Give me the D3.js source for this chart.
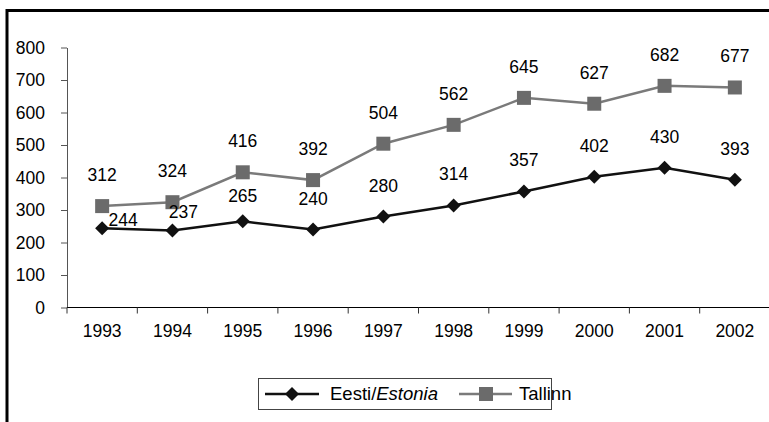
<!DOCTYPE html>
<html><head><meta charset="utf-8">
<script src="https://cdn.jsdelivr.net/npm/d3@7"></script>
<style>body{margin:0;background:#fff}svg{display:block}text{font-family:"Liberation Sans",Arial,sans-serif}</style>
</head><body>
<script>
const years = ["1993","1994","1995","1996","1997","1998","1999","2000","2001","2002"];
const estonia = [244,237,265,240,280,314,357,402,430,393];
const tallinn = [312,324,416,392,504,562,645,627,682,677];
const yTicks = [0,100,200,300,400,500,600,700,800];
const seriesNames = ["Eesti/", "Estonia", "Tallinn"];

const W = 769, H = 422;
const svg = d3.select("body").append("svg").attr("width", W).attr("height", H);
svg.append("rect").attr("x", 7).attr("y", 10.5).attr("width", 800).attr("height", 500)
  .attr("fill", "none").attr("stroke", "#000").attr("stroke-width", 3);

const x = d3.scaleBand().domain(years).range([67, 770]);
const y = d3.scaleLinear().domain([0, 800]).range([307.5, 47.5]);
const fs = 17.5;

// Y axis
const ya = svg.append("g").attr("transform", "translate(67,0)")
  .call(d3.axisLeft(y).tickValues(yTicks).tickSize(6).tickSizeOuter(0).tickPadding(16));
ya.select(".domain").attr("stroke", "#555");
ya.selectAll(".tick line").attr("stroke", "#555");
ya.selectAll("text").attr("font-size", fs).attr("fill", "#000").attr("font-family", "Liberation Sans, Arial, sans-serif");

// X axis
const xg = svg.append("g");
xg.append("line").attr("x1", 67).attr("x2", W).attr("y1", y(0)).attr("y2", y(0)).attr("stroke", "#000");
xg.selectAll("line.t").data(years).join("line").attr("class", "t")
  .attr("x1", d => x(d)).attr("x2", d => x(d)).attr("y1", y(0)).attr("y2", y(0) + 6).attr("stroke", "#333");
xg.selectAll("text").data(years).join("text")
  .attr("x", d => x(d) + x.bandwidth() / 2).attr("y", 337).attr("text-anchor", "middle")
  .attr("font-size", fs).text(d => d);

const cx = (d, i) => x(years[i]) + x.bandwidth() / 2;
const line = d3.line().x(cx).y(d => y(d));

// Tallinn
svg.append("path").datum(tallinn).attr("d", line).attr("fill", "none").attr("stroke", "#7a7a7a").attr("stroke-width", 2.5);
svg.selectAll("rect.tm").data(tallinn).join("rect").attr("class", "tm")
  .attr("x", (d, i) => cx(d, i) - 7).attr("y", d => y(d) - 7).attr("width", 14).attr("height", 14).attr("fill", "#6b6b6b");

// Estonia
svg.append("path").datum(estonia).attr("d", line).attr("fill", "none").attr("stroke", "#111").attr("stroke-width", 2.5);
const diamond = d3.symbol().type(d3.symbolSquare).size(98);
svg.selectAll("path.em").data(estonia).join("path").attr("class", "em")
  .attr("d", diamond).attr("fill", "#111")
  .attr("transform", (d, i) => `translate(${cx(d, i)},${y(d)}) rotate(45)`);

// Labels
const nudgeE = {0: [21, 23], 1: [11, 13], 2: [0, 6]};
svg.selectAll("text.tl").data(tallinn).join("text").attr("class", "tl")
  .attr("x", (d, i) => cx(d, i)).attr("y", d => y(d) - 25).attr("text-anchor", "middle")
  .attr("font-size", fs).text(d => d);
svg.selectAll("text.el").data(estonia).join("text").attr("class", "el")
  .attr("x", (d, i) => cx(d, i) + (nudgeE[i] ? nudgeE[i][0] : 0))
  .attr("y", (d, i) => y(d) - 25 + (nudgeE[i] ? nudgeE[i][1] : 0)).attr("text-anchor", "middle")
  .attr("font-size", fs).text(d => d);

// Legend
const lg = svg.append("g");
lg.append("rect").attr("x", 258.5).attr("y", 378.5).attr("width", 293).attr("height", 31)
  .attr("fill", "#fff").attr("stroke", "#444");
const ly = 394;
lg.append("line").attr("x1", 265).attr("x2", 319).attr("y1", ly).attr("y2", ly).attr("stroke", "#111").attr("stroke-width", 2.5);
lg.append("path").attr("d", diamond).attr("fill", "#111").attr("transform", `translate(292,${ly}) rotate(45)`);
const t1 = lg.append("text").attr("x", 330).attr("y", ly + 6).attr("font-size", 18.5);
t1.append("tspan").text(seriesNames[0]);
t1.append("tspan").attr("font-style", "italic").text(seriesNames[1]);
lg.append("line").attr("x1", 459).attr("x2", 512).attr("y1", ly).attr("y2", ly).attr("stroke", "#7a7a7a").attr("stroke-width", 2.5);
lg.append("rect").attr("x", 479).attr("y", ly - 7).attr("width", 14).attr("height", 14).attr("fill", "#6b6b6b");
lg.append("text").attr("x", 519).attr("y", ly + 6).attr("font-size", 18.5).text(seriesNames[2]);
</script>
</body></html>
